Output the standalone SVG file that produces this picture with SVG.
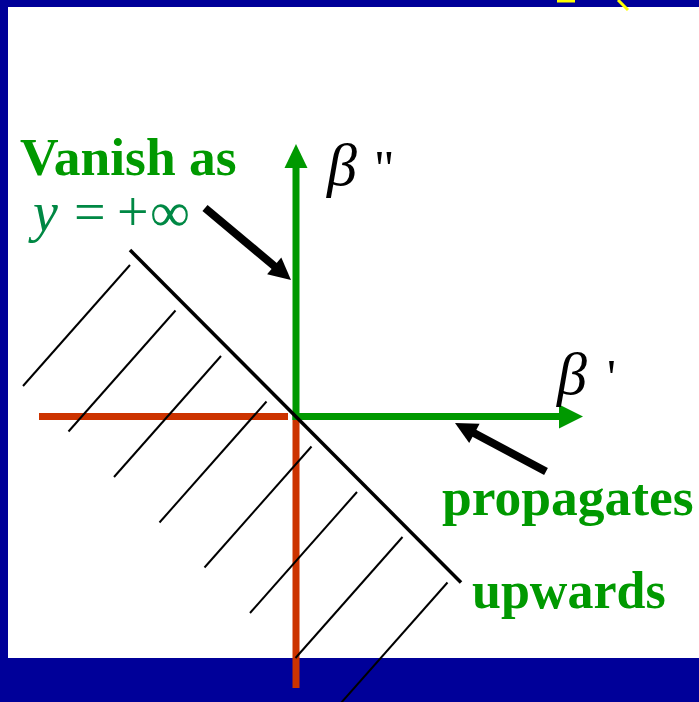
<svg xmlns="http://www.w3.org/2000/svg" width="699" height="702" viewBox="0 0 699 702">
<style>
.lbl{font-family:"Liberation Serif","Times New Roman",serif;font-weight:bold;font-size:53.5px;fill:#009900}
.math{font-family:"Liberation Serif","Times New Roman",serif;font-size:60px;fill:#000}
.prime{font-family:"Liberation Serif","Times New Roman",serif;font-size:50px;fill:#000}
.hatch{stroke:#000;stroke-width:2;fill:none}
.axisg{stroke:#009900;stroke-width:7;fill:none}
.axisr{stroke:#CC3300;stroke-width:7;fill:none}
.ptr{stroke:#000;stroke-width:8;fill:none}
</style>
<rect x="0" y="0" width="699" height="702" fill="#000099"/>
<rect x="8" y="7" width="691" height="651" fill="#fff"/>
<g id="yellow-fragments" stroke="#FFFF00" stroke-width="3" fill="none">
<line x1="557" y1="1" x2="575" y2="1"/>
<line x1="618" y1="0" x2="628" y2="10"/>
</g>
<g id="connectors">
<line class="axisr" x1="39" y1="416.5" x2="288" y2="416.5"/>
<line class="axisr" x1="296" y1="420" x2="296" y2="688"/>
<line class="axisg" x1="296" y1="420" x2="296" y2="166"/>
<polygon points="296,144 284.5,168 307.5,168" fill="#009900"/>
<line class="axisg" x1="292.5" y1="416.5" x2="561" y2="416.5"/>
<polygon points="583,416.5 559,404.5 559,428.5" fill="#009900"/>
<line class="ptr" x1="205" y1="208" x2="276" y2="267.5"/>
<polygon points="291,280 267.1,274.2 281.3,257.4" fill="#000"/>
<line class="ptr" x1="546" y1="471.5" x2="472" y2="432"/>
<polygon points="455,423 479.6,423.7 469.2,443.1" fill="#000"/>
</g>
<g id="boundary">
<line x1="130" y1="250" x2="461" y2="582.5" stroke="#000" stroke-width="3.5"/>
<line class="hatch" x1="23" y1="386" x2="130" y2="265"/>
<line class="hatch" x1="68.5" y1="431.5" x2="175.5" y2="310.5"/>
<line class="hatch" x1="114" y1="477" x2="221" y2="356"/>
<line class="hatch" x1="159.5" y1="522.5" x2="266.5" y2="401.5"/>
<line class="hatch" x1="204.5" y1="567.5" x2="311.5" y2="446.5"/>
<line class="hatch" x1="250" y1="613" x2="357" y2="492"/>
<line class="hatch" x1="295.5" y1="658" x2="402.5" y2="537"/>
<line class="hatch" x1="340.5" y1="703.5" x2="447.5" y2="582.5"/>
</g>
<g id="label-vanish">
<text class="lbl" x="20" y="175">Vanish as</text>
<text font-family="'Liberation Serif','Times New Roman',serif" font-size="56" fill="#008844" y="231"><tspan x="33" font-style="italic">y</tspan><tspan x="74" textLength="34">=</tspan><tspan x="117" textLength="33">+</tspan><tspan x="150">∞</tspan></text>
</g>
<g id="label-beta2">
<text class="math" x="327" y="185" font-style="italic">β</text>
<text class="prime" x="374" y="185">"</text>
</g>
<g id="label-beta1">
<text class="math" x="557" y="394" font-style="italic">β</text>
<text class="prime" x="607" y="394">'</text>
</g>
<g id="label-propagates">
<text class="lbl" x="442" y="515">propagates</text>
</g>
<g id="label-upwards">
<text class="lbl" x="472" y="608" style="font-size:52px">upwards</text>
</g>
</svg>
